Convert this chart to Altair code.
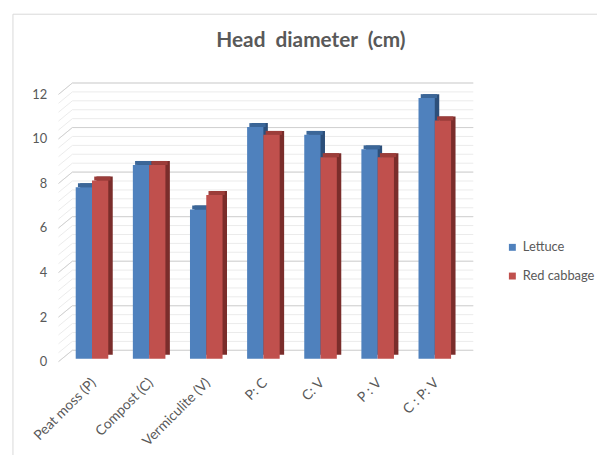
import altair as alt
import pandas as pd

categories = ["Peat moss (P)", "Compost (C)", "Vermiculite (V)", "P: C", "C: V", "P : V", "C : P: V"]
series_names = ["Lettuce", "Red cabbage"]
lettuce = [7.7, 8.7, 6.7, 10.4, 10.05, 9.4, 11.7]
red_cabbage = [8.0, 8.7, 7.35, 10.05, 9.05, 9.05, 10.7]
major_ticks = [0, 2, 4, 6, 8, 10, 12]
minor_ticks = [round(i * 0.4, 1) for i in range(31)]

front_colors = ["#4f81bd", "#c0504d"]
side_colors = {"Lettuce": "#2c4f7a", "Red cabbage": "#7a2d2b"}
top_colors = {"Lettuce": "#3b6698", "Red cabbage": "#9c3d3a"}

rows = []
for cat, l, r in zip(categories, lettuce, red_cabbage):
    rows.append({"category": cat, "series": "Lettuce", "value": l,
                 "side": side_colors["Lettuce"], "top": top_colors["Lettuce"]})
    rows.append({"category": cat, "series": "Red cabbage", "value": r,
                 "side": side_colors["Red cabbage"], "top": top_colors["Red cabbage"]})
df = pd.DataFrame(rows)
grid_minor = pd.DataFrame({"v": minor_ticks})
grid_major = pd.DataFrame({"v": major_ticks})
one = pd.DataFrame({"k": [0]})

FONT = "Lato"
GREY = "#595959"

yscale = alt.Scale(domain=[0, 12], nice=False, zero=True)
yaxis = alt.Axis(values=major_ticks, domain=False, ticks=False, tickSize=0, grid=False,
                 labelPadding=17, labelOffset=3, labelFontSize=13, labelColor=GREY,
                 labelFont=FONT, title=None)
xscale = alt.Scale(paddingInner=0.43, paddingOuter=0.215)
xaxis = alt.Axis(domain=False, ticks=False, grid=False, labelAngle=-45, labelPadding=17,
                 labelOffset=-3, labelFontSize=14, labelColor=GREY, labelFont=FONT, title=None)

X = alt.X("category:N", sort=categories, scale=xscale, axis=xaxis)
BW = 404 / 7 * (1 - 0.43)


def xo(shift):
    return alt.XOffset("series:N", sort=series_names,
                       scale=alt.Scale(domain=series_names, range=[shift, shift + BW],
                                       paddingInner=0, paddingOuter=0))


frame_v = alt.Chart(one).mark_rule(color="#d9d9d9", strokeWidth=1).encode(
    x=alt.value(-51), y=alt.value(-78), y2=alt.value(380))
frame_h = alt.Chart(one).mark_rule(color="#d9d9d9", strokeWidth=1).encode(
    x=alt.value(-51), x2=alt.value(560), y=alt.value(-78))

minor_back = alt.Chart(grid_minor).mark_rule(color="#ebebeb", strokeWidth=1, yOffset=-8.5).encode(
    y=alt.Y("v:Q", scale=yscale, axis=yaxis), x=alt.value(9), x2=alt.value(414))
minor_slant = alt.Chart(grid_minor).mark_rule(color="#ebebeb", strokeWidth=1, yOffset=3, y2Offset=-8.5).encode(
    y=alt.Y("v:Q", scale=yscale, axis=yaxis), y2=alt.Y2("v"), x=alt.value(-5), x2=alt.value(9))
major_back = alt.Chart(grid_major).mark_rule(color="#d0d0d0", strokeWidth=1, yOffset=-8.5).encode(
    y=alt.Y("v:Q", scale=yscale, axis=yaxis), x=alt.value(9), x2=alt.value(414))
major_slant = alt.Chart(grid_major).mark_rule(color="#d0d0d0", strokeWidth=1, yOffset=3, y2Offset=-8.5).encode(
    y=alt.Y("v:Q", scale=yscale, axis=yaxis), y2=alt.Y2("v"), x=alt.value(-5), x2=alt.value(9))

side = alt.Chart(df).mark_bar(yOffset=-4, y2Offset=-4).encode(
    x=X, xOffset=xo(4.5), y=alt.Y("value:Q", scale=yscale, axis=yaxis),
    color=alt.Color("side:N", scale=None))
top = alt.Chart(df).mark_bar(yOffset=-4, y2Offset=0).encode(
    x=X, xOffset=xo(2.25), y=alt.Y("value:Q", scale=yscale, axis=yaxis), y2=alt.Y2("value"),
    color=alt.Color("top:N", scale=None))
front = alt.Chart(df).mark_bar().encode(
    x=X, xOffset=xo(0), y=alt.Y("value:Q", scale=yscale, axis=yaxis),
    color=alt.Color("series:N", sort=series_names,
                    scale=alt.Scale(domain=series_names, range=front_colors),
                    legend=alt.Legend(title=None, orient="none", legendX=447, legendY=151,
                                      symbolType="square", symbolSize=49, labelFontSize=13,
                                      labelColor=GREY, labelFont=FONT, rowPadding=15,
                                      labelOffset=4, padding=0, symbolStrokeWidth=0,
                                      labelLimit=200)))

chart = alt.layer(frame_v, frame_h, minor_back, minor_slant, major_back, major_slant,
                  side, top, front).resolve_scale(color="independent", xOffset="independent").properties(
    width=404, height=270,
    title=alt.TitleParams("Head\u00a0 diameter\u00a0 (cm)", font=FONT, fontSize=21,
                          fontWeight="bold", color=GREY, anchor="middle", frame="group",
                          dx=48, offset=-55, baseline="alphabetic"),
    autosize=alt.AutoSizeParams(type="none"),
    padding={"left": 56, "top": 82, "right": 135, "bottom": 95},
    background="white",
).configure_view(stroke=None)

chart.save("out.html", embed_options={"renderer": "svg", "actions": False})
